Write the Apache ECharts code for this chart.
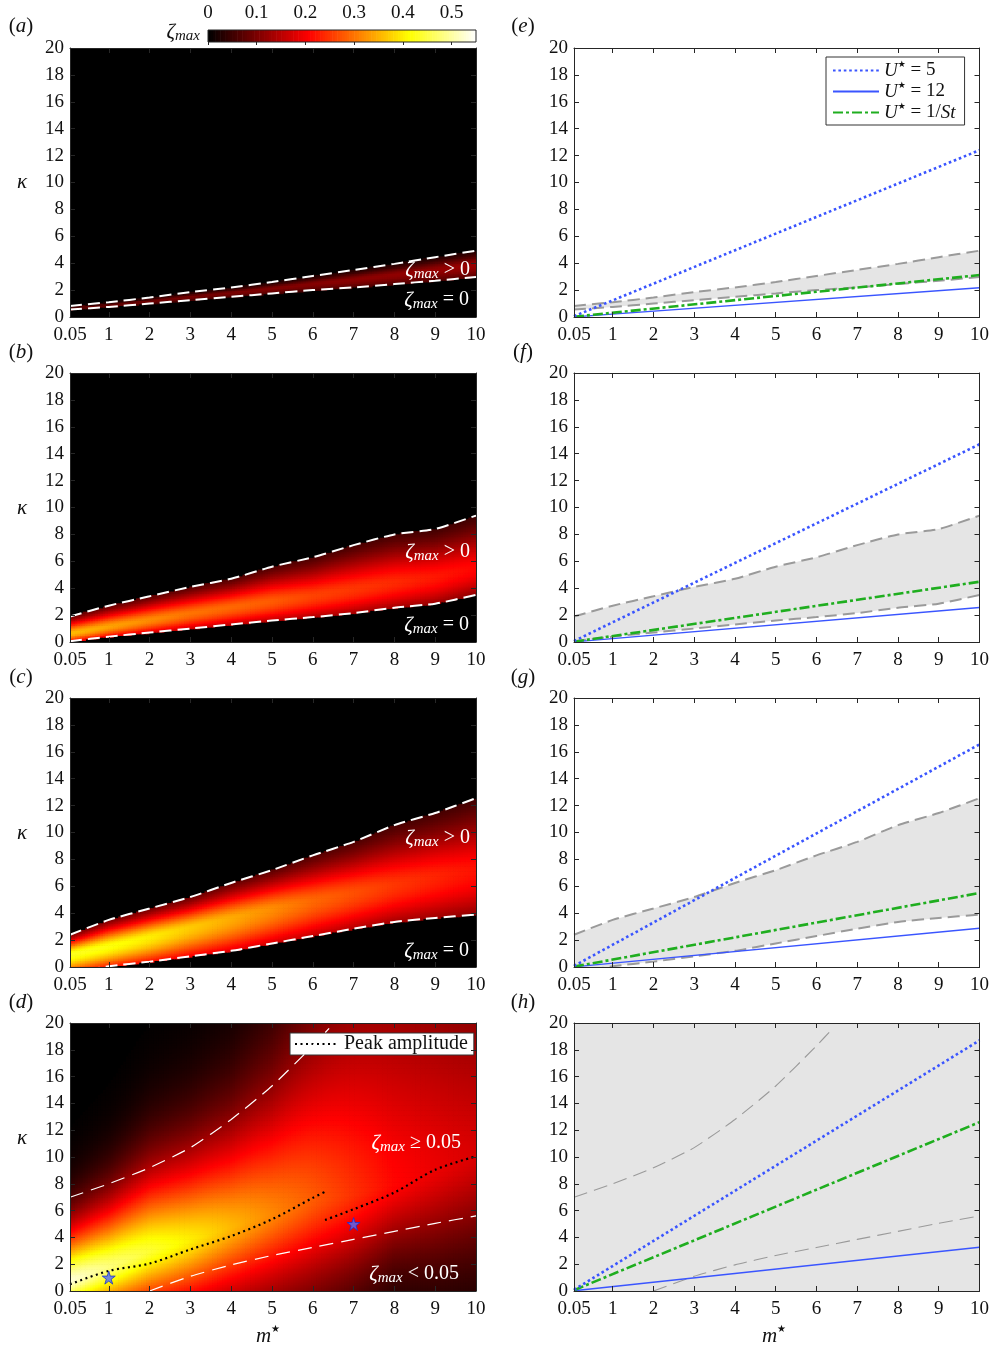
<!DOCTYPE html>
<html><head><meta charset="utf-8">
<script src="https://cdn.jsdelivr.net/npm/echarts@6.0.0/dist/echarts.min.js"></script>
<style>html,body{margin:0;padding:0;background:#fff}#c{width:998px;height:1349px}</style>
</head><body><div id="c"></div>
<script>
// ---------------- data ----------------
const X_TICKS = [0.05, 1, 2, 3, 4, 5, 6, 7, 8, 9, 10];
const CB_TICKS = [0, 0.1, 0.2, 0.3, 0.4, 0.5];
const mGrid = [0.05, 1, 2, 3, 4, 5, 6, 7, 8, 9, 10];

// panel (a) / (e)
const aUpper = [0.82, 1.1, 1.45, 1.85, 2.2, 2.6, 3.05, 3.5, 3.95, 4.45, 4.93];
const aLower = [0.55, 0.75, 1.0, 1.25, 1.5, 1.75, 2.0, 2.2, 2.45, 2.7, 2.97];
const aPeakK = [0.68, 0.92, 1.22, 1.55, 1.85, 2.17, 2.52, 2.85, 3.2, 3.57, 3.95];
const aPeakV = [0.085, 0.088, 0.092, 0.096, 0.1, 0.104, 0.108, 0.112, 0.116, 0.12, 0.124];
// panel (b) / (f)
const bUpper = [1.9, 2.7, 3.4, 4.1, 4.7, 5.6, 6.3, 7.2, 8.0, 8.4, 9.4];
const bLower = [0.05, 0.4, 0.7, 1.0, 1.3, 1.6, 1.85, 2.15, 2.55, 2.85, 3.5];
const bPeakK = [0.7, 1.2, 1.7, 2.2, 2.65, 3.1, 3.5, 4.0, 4.5, 4.9, 5.6];
const bPeakV = [0.36, 0.34, 0.32, 0.3, 0.29, 0.28, 0.26, 0.25, 0.24, 0.225, 0.21];
// panel (c) / (g)
const cUpper = [2.4, 3.5, 4.35, 5.2, 6.25, 7.2, 8.3, 9.3, 10.55, 11.45, 12.55];
const cLower = [-0.4, 0.05, 0.4, 0.8, 1.2, 1.75, 2.3, 2.85, 3.35, 3.65, 3.9];
const cPeakK = [1.0, 1.6, 2.3, 3.0, 3.7, 4.4, 5.0, 5.6, 6.2, 6.8, 7.3];
const cPeakV = [0.43, 0.42, 0.4, 0.37, 0.345, 0.32, 0.29, 0.27, 0.25, 0.235, 0.22];
// panel (d) / (h)
const dUpperM = [0.05, 1, 2, 3, 4, 5, 6, 6.4];
const dUpper = [7.0, 8.0, 9.2, 10.7, 12.8, 15.3, 18.3, 19.6];
const dLowerM = [2, 3, 4, 5, 6, 7, 8, 9, 10];
const dLower = [0, 1.1, 1.95, 2.65, 3.25, 3.85, 4.45, 5.05, 5.6];
const peak1M = [0.05, 1, 2, 3, 4, 5, 6, 6.3];
const peak1K = [0.5, 1.5, 2.05, 3.1, 4.1, 5.35, 6.95, 7.4];
const peak2M = [6.3, 7, 8, 9, 10];
const peak2K = [5.3, 6.1, 7.35, 9.05, 10.05];
const dPeakK = [0.8, 1.8, 3.0, 3.8, 4.8, 5.8, 6.8, 7.3, 8.0, 9.0, 10.0];
const dPeakV = [0.53, 0.48, 0.44, 0.4, 0.355, 0.315, 0.28, 0.245, 0.21, 0.19, 0.175];
const dSpreadUp = [3.8, 4.6, 5.8, 6.5, 7.5, 9.5, 13, 17, 20, 20, 19];
const dSpreadDown = [3.0, 3.8, 4.6, 5.2, 5.8, 6.4, 6.8, 6.4, 5.6, 6.6, 7.2];
const starM = [1, 7];
const starK = [1, 5];
// right column lines (kappa at m = 0.05 and m = 10)
const lineM = [0.05, 10];
const u5E = [0.06, 12.4],  u12E = [0.01, 2.17], uStE = [0.02, 3.12];
const u5F = [0.07, 14.7],  u12F = [0.01, 2.57], uStF = [0.02, 4.48];
const u5G = [0.08, 16.55], u12G = [0.01, 2.88], uStG = [0.03, 5.5];
const u5H = [0.09, 18.7],  u12H = [0.02, 3.27], uStH = [0.06, 12.6];

// ---------------- helpers ----------------
const FONT = '"Liberation Serif","Times New Roman",serif';
function interp(xs, ys, x) {
  if (x <= xs[0]) return ys[0];
  for (let i = 1; i < xs.length; i++) {
    if (x <= xs[i]) { const t = (x - xs[i-1]) / (xs[i] - xs[i-1]); return ys[i-1] + t * (ys[i] - ys[i-1]); }
  }
  return ys[ys.length - 1];
}
function pairs(xs, ys) { return xs.map((x, i) => [x, ys[i]]); }
function bandField(L, U, PK, PV) {
  return (m, k) => {
    const l = interp(mGrid, L, m), u = interp(mGrid, U, m), kp = interp(mGrid, PK, m), p = interp(mGrid, PV, m);
    if (k < l || k > u) return 0;
    if (k >= kp) { const t = (k - kp) / (u - kp); return p * Math.exp(-Math.pow(1.25 * t, 1.6)); }
    const t = (kp - k) / Math.max(1e-6, kp - l); return p * Math.exp(-Math.pow(0.8 * t, 2));
  };
}
function dField(m, k) {
  const kp = interp(mGrid, dPeakK, m), p = interp(mGrid, dPeakV, m);
  const w = k >= kp ? interp(mGrid, dSpreadUp, m) : interp(mGrid, dSpreadDown, m);
  return p * Math.exp(-Math.pow(Math.abs(k - kp) / w, 1.5));
}
const NM = 160, NK = 160, DM = (10 - 0.05) / NM, DK = 20 / NK;
function cells(fn) {
  const out = [];
  for (let i = 0; i < NM; i++) for (let j = 0; j < NK; j++) {
    const m = 0.05 + (i + 0.5) * DM, k = (j + 0.5) * DK, v = fn(m, k);
    if (v > 0.003) out.push([m, k, v]);
  }
  return out;
}
function cellRender(params, api) {
  const m = api.value(0), k = api.value(1);
  const a = api.coord([m - DM / 2, k + DK / 2]), b = api.coord([m + DM / 2, k - DK / 2]);
  return { type: 'rect', silent: true, shape: { x: a[0], y: a[1], width: b[0] - a[0] + 0.7, height: b[1] - a[1] + 0.7 }, style: { fill: api.visual('color') } };
}
const hotStops = [];
for (let i = 0; i <= 40; i++) {
  const f = i / 40;
  const r = Math.min(1, f / 0.375), g = Math.min(1, Math.max(0, (f - 0.375) / 0.375)), b = Math.max(0, (f - 0.75) / 0.25);
  hotStops.push('rgb(' + Math.round(r * 255) + ',' + Math.round(g * 255) + ',' + Math.round(b * 255) + ')');
}

// ---------------- layout ----------------
const TOPS = [48, 373, 698, 1023], HEIGHTS = [269, 269, 269, 268];
const grids = [], xAxes = [], yAxes = [], series = [], hmIdx = [];
const axisCol = '#262626';
for (let p = 0; p < 8; p++) {
  const col = p < 4 ? 0 : 1, row = p % 4;
  grids.push({ left: col ? 574 : 70, top: TOPS[row], width: col ? 405.5 : 406, height: HEIGHTS[row], show: true,
    backgroundColor: p < 4 ? '#000' : (p === 7 ? '#e5e5e5' : '#fff'), borderWidth: 0 });
  const common = { gridIndex: p, type: 'value', z: 10, splitLine: { show: false },
    axisLine: { show: true, onZero: false, lineStyle: { color: axisCol, width: 1 } } };
  xAxes.push(Object.assign({}, common, { position: 'bottom', min: 0.05, max: 10,
    axisTick: { show: true, inside: true, length: 5, customValues: X_TICKS, lineStyle: { color: axisCol } },
    axisLabel: { show: true, customValues: X_TICKS, showMinLabel: true, showMaxLabel: true, margin: 9, fontFamily: FONT, fontSize: 19, color: '#111', formatter: v => String(v) } }));
  xAxes.push(Object.assign({}, common, { position: 'top', min: 0.05, max: 10,
    axisTick: { show: true, inside: true, length: 5, customValues: X_TICKS, lineStyle: { color: axisCol } },
    axisLabel: { show: false } }));
  yAxes.push(Object.assign({}, common, { position: 'left', min: 0, max: 20, interval: 2,
    axisTick: { show: true, inside: true, length: 5, lineStyle: { color: axisCol } },
    axisLabel: { show: true, margin: 6, fontFamily: FONT, fontSize: 19, color: '#111' } }));
  yAxes.push(Object.assign({}, common, { position: 'right', min: 0, max: 20, interval: 2,
    axisTick: { show: true, inside: true, length: 5, lineStyle: { color: axisCol } },
    axisLabel: { show: false } }));
}
// colourbar grid
grids.push({ left: 208, top: 30, width: 268, height: 12, show: false });
xAxes.push({ gridIndex: 8, type: 'value', position: 'top', min: 0, max: 0.55, z: 10, splitLine: { show: false },
  axisLine: { show: false },
  axisTick: { show: true, inside: true, length: 3, customValues: CB_TICKS, lineStyle: { color: axisCol } },
  axisLabel: { show: true, customValues: CB_TICKS, margin: 7, fontFamily: FONT, fontSize: 19, color: '#111', formatter: v => String(v) } });
yAxes.push({ gridIndex: 8, type: 'value', min: 0, max: 1, show: false });

function ax(p) { return { xAxisIndex: 2 * p, yAxisIndex: 2 * p }; }
function addSeries(s) { series.push(Object.assign({ animation: false, silent: true }, s)); return series.length - 1; }

// ----- heatmaps (a)-(d)
const fields = [bandField(aLower, aUpper, aPeakK, aPeakV), bandField(bLower, bUpper, bPeakK, bPeakV), bandField(cLower, cUpper, cPeakK, cPeakV), dField];
fields.forEach((fn, p) => {
  hmIdx.push(addSeries(Object.assign({ type: 'custom', name: 'hm' + p, data: cells(fn), renderItem: cellRender, clip: true, z: 1,
    progressive: 0, progressiveThreshold: 1e9 }, ax(p))));
});
// colourbar
const cbData = [];
for (let i = 0; i < 110; i++) { const v = (i + 0.5) * 0.005; cbData.push([v, 0.5, v]); }
hmIdx.push(addSeries({ type: 'custom', name: 'cb', xAxisIndex: 16, yAxisIndex: 16, data: cbData, clip: true, z: 1,
  renderItem: (params, api) => { const v = api.value(0); const a = api.coord([v - 0.0025, 1]), b = api.coord([v + 0.0025, 0]);
    return { type: 'rect', shape: { x: a[0], y: a[1], width: b[0] - a[0] + 0.6, height: b[1] - a[1] }, style: { fill: api.visual('color') } }; } }));

// ----- white dashed contours (a)-(c)
const bounds = [[aUpper, aLower], [bUpper, bLower], [cUpper, cLower]];
bounds.forEach((bd, p) => {
  bd.forEach(arr => addSeries(Object.assign({ type: 'line', data: pairs(mGrid, arr), symbol: 'none', smooth: 0.2, z: 4,
    lineStyle: { color: '#fff', width: 2, type: [12, 6] } }, ax(p))));
});
// (d) contours
addSeries(Object.assign({ type: 'line', data: pairs(dUpperM, dUpper), symbol: 'none', smooth: 0.2, z: 4, lineStyle: { color: '#fff', width: 1.2, type: [14, 8] } }, ax(3)));
addSeries(Object.assign({ type: 'line', data: pairs(dLowerM, dLower), symbol: 'none', smooth: 0.2, z: 4, lineStyle: { color: '#fff', width: 1.2, type: [14, 8] } }, ax(3)));
// peak amplitude
addSeries(Object.assign({ type: 'line', name: 'Peak amplitude', data: pairs(peak1M, peak1K), symbol: 'none', smooth: 0.3, z: 5, lineStyle: { color: '#000', width: 2.2, type: [2, 3.5] }, itemStyle: { color: '#000' } }, ax(3)));
addSeries(Object.assign({ type: 'line', name: 'Peak amplitude', data: pairs(peak2M, peak2K), symbol: 'none', smooth: 0.3, z: 5, lineStyle: { color: '#000', width: 2.2, type: [2, 3.5] }, itemStyle: { color: '#000' } }, ax(3)));
// stars
addSeries(Object.assign({ type: 'scatter', data: pairs(starM, starK), symbol: 'path://M50,0 L61,35 L98,35 L68,57 L79,91 L50,70 L21,91 L32,57 L2,35 L39,35 Z', symbolSize: 13, z: 6,
  itemStyle: { color: '#4f6dff', borderColor: '#1c2fd0', borderWidth: 1 } }, ax(3)));

// ----- right column
const rightBands = [[aUpper, aLower], [bUpper, bLower], [cUpper, cLower]];
rightBands.forEach((bd, i) => {
  const p = 4 + i;
  const up = pairs(mGrid, bd[0]), lo = pairs(mGrid, bd[1]);
  addSeries(Object.assign({ type: 'custom', data: [[5, 5]], clip: true, z: 1,
    renderItem: (params, api) => ({ type: 'polygon', shape: { points: up.concat(lo.slice().reverse()).map(pt => api.coord(pt)) }, style: { fill: '#e5e5e5' } }) }, ax(p)));
  bd.forEach(arr => addSeries(Object.assign({ type: 'line', data: pairs(mGrid, arr), symbol: 'none', smooth: 0.2, z: 2,
    lineStyle: { color: '#9a9a9a', width: 2, type: [12, 6] } }, ax(p))));
});
addSeries(Object.assign({ type: 'line', data: pairs(dUpperM, dUpper), symbol: 'none', smooth: 0.2, z: 2, lineStyle: { color: '#9a9a9a', width: 1.1, type: [14, 7] } }, ax(7)));
addSeries(Object.assign({ type: 'line', data: pairs(dLowerM, dLower), symbol: 'none', smooth: 0.2, z: 2, lineStyle: { color: '#9a9a9a', width: 1.1, type: [14, 7] } }, ax(7)));

const BLUE = '#3a55ff', GREEN = '#1fae1f';
const uSets = [[u5E, u12E, uStE], [u5F, u12F, uStF], [u5G, u12G, uStG], [u5H, u12H, uStH]];
uSets.forEach((set, i) => {
  const p = 4 + i;
  addSeries(Object.assign({ type: 'line', name: 'U12', data: pairs(lineM, set[1]), symbol: 'none', z: 3, lineStyle: { color: BLUE, width: 1.4, type: 'solid' }, itemStyle: { color: BLUE } }, ax(p)));
  addSeries(Object.assign({ type: 'line', name: 'USt', data: pairs(lineM, set[2]), symbol: 'none', z: 4, lineStyle: { color: GREEN, width: 2.6, type: [10, 3, 3, 3] }, itemStyle: { color: GREEN } }, ax(p)));
  addSeries(Object.assign({ type: 'line', name: 'U5', data: pairs(lineM, set[0]), symbol: 'none', z: 5, lineStyle: { color: BLUE, width: 2.6, type: [2.6, 2.8] }, itemStyle: { color: BLUE } }, ax(p)));
});

// ---------------- text ----------------
const serifRich = {
  r: { fontFamily: FONT, fontSize: 20, lineHeight: 24, fill: '#fff', color: '#fff' },
  z: { fontFamily: FONT, fontSize: 21, fontStyle: 'italic', lineHeight: 24, fill: '#fff', color: '#fff' },
  s: { fontFamily: FONT, fontSize: 15, fontStyle: 'italic', lineHeight: 14, verticalAlign: 'bottom', fill: '#fff', color: '#fff' }
};
function richCopy(col) { const o = {}; for (const k in serifRich) o[k] = Object.assign({}, serifRich[k], { fill: col, color: col }); return o; }
function txt(text, x, y, align, col, rich) {
  return { type: 'text', x: x, y: y, z: 100, silent: true, style: { text: text, align: align, verticalAlign: 'middle', rich: rich || richCopy(col), fill: col } };
}
const graphics = [];
const labels = ['a', 'b', 'c', 'd', 'e', 'f', 'g', 'h'];
const labRich = {
  p: { fontFamily: FONT, fontSize: 21, lineHeight: 24, fill: '#111', color: '#111' },
  l: { fontFamily: FONT, fontSize: 21, fontStyle: 'italic', lineHeight: 24, fill: '#111', color: '#111' },
  sup: { fontFamily: '"DejaVu Sans",' + FONT, fontSize: 10, lineHeight: 12, verticalAlign: 'top', fill: '#111', color: '#111' }
};
labels.forEach((l, p) => {
  const col = p < 4 ? 0 : 1, row = p % 4;
  graphics.push(txt('{p|(}{l|' + l + '}{p|)}', col ? 523 : 21, [26, 352, 677, 1002][row], 'center', '#111', labRich));
  if (!col) graphics.push(txt('{l|κ}', 22, [182, 508, 833, 1138][row], 'center', '#111', labRich));
});
graphics.push(txt('{l|m}{sup|★}', 268, 1336, 'center', '#111', labRich));
graphics.push(txt('{l|m}{sup|★}', 774, 1336, 'center', '#111', labRich));
// colourbar title and frame
graphics.push(txt('{z|ζ}{s|max}', 200, 32, 'right', '#111'));
graphics.push({ type: 'rect', z: 100, silent: true, shape: { x: 208, y: 30, width: 268, height: 12 }, style: { fill: null, stroke: axisCol, lineWidth: 1 } });
// annotations
[[270, 300], [552, 625], [838, 951]].forEach(ys => {
  graphics.push(txt('{z|ζ}{s|max}{r| > 0}', 470, ys[0], 'right', '#fff'));
  graphics.push(txt('{z|ζ}{s|max}{r| = 0}', 469, ys[1], 'right', '#fff'));
});
graphics.push(txt('{z|ζ}{s|max}{r| ≥ 0.05}', 461, 1143, 'right', '#fff'));
graphics.push(txt('{z|ζ}{s|max}{r| < 0.05}', 459, 1274, 'right', '#fff'));

const legRich = {
  i: { fontFamily: FONT, fontSize: 19, fontStyle: 'italic', lineHeight: 21, color: '#111' },
  r: { fontFamily: FONT, fontSize: 19, lineHeight: 21, color: '#111' },
  s: { fontFamily: '"DejaVu Sans",' + FONT, fontSize: 9, lineHeight: 10, verticalAlign: 'top', color: '#111' }
};
const legNames = { U5: '{i|U}{s|★}{r| = 5}', U12: '{i|U}{s|★}{r| = 12}', USt: '{i|U}{s|★}{r| = 1/}{i|St}' };
const noSym = { color: 'rgba(0,0,0,0)', borderColor: 'rgba(0,0,0,0)', borderWidth: 0 };

const option = {
  animation: false,
  backgroundColor: '#fff',
  grid: grids, xAxis: xAxes, yAxis: yAxes, series: series,
  visualMap: { show: false, type: 'continuous', min: 0, max: 0.55, dimension: 2, seriesIndex: hmIdx, inRange: { color: hotStops } },
  legend: [
    { left: 826, top: 57, orient: 'vertical', data: ['U5', 'U12', 'USt'], selectedMode: false, itemWidth: 46, itemHeight: 12, itemGap: 1,
      padding: [3, 9, 3, 6], borderColor: '#333', borderWidth: 1, backgroundColor: '#fff', itemStyle: noSym,
      formatter: n => legNames[n], textStyle: { fontFamily: FONT, fontSize: 19, color: '#111', rich: legRich } },
    { left: 290, top: 1033, data: ['Peak amplitude'], selectedMode: false, itemWidth: 44, itemHeight: 12,
      padding: [1, 6, 1, 4], borderColor: '#333', borderWidth: 1, backgroundColor: '#fff', itemStyle: noSym,
      textStyle: { fontFamily: FONT, fontSize: 20, color: '#111' } }
  ],
  graphic: graphics
};
const chart = echarts.init(document.getElementById('c'), null, { renderer: 'canvas' });
chart.setOption(option);
</script></body></html>
